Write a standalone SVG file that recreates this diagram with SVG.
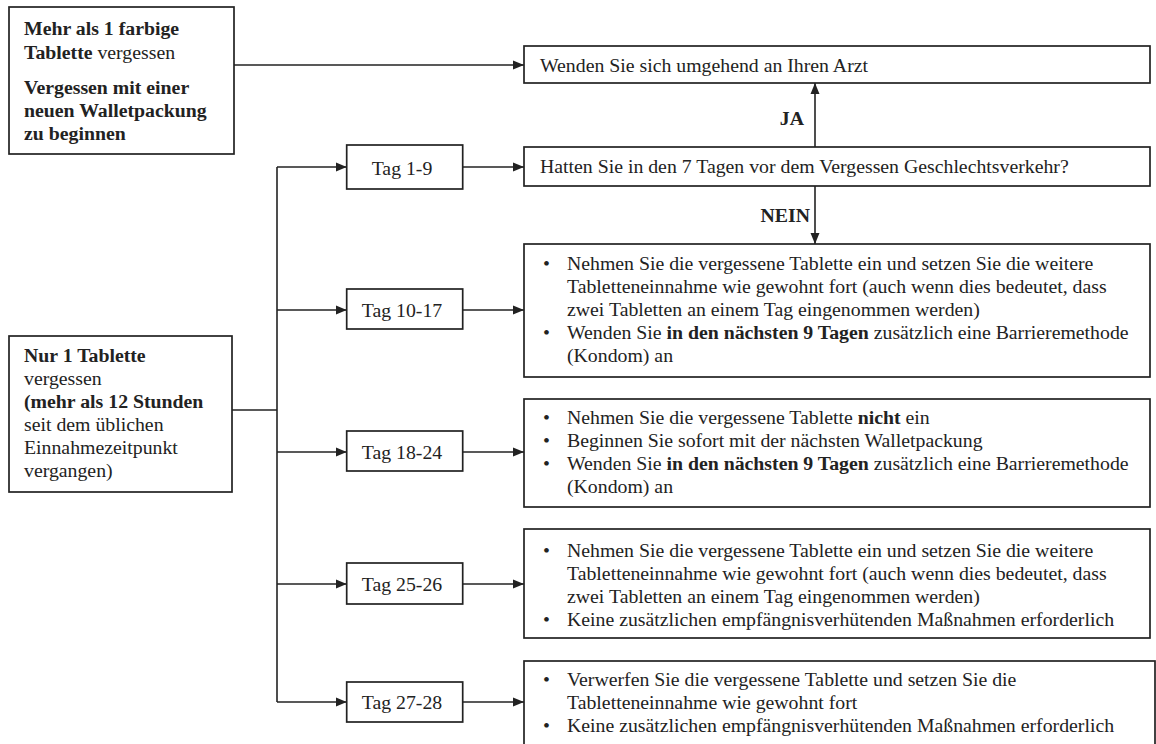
<svg xmlns="http://www.w3.org/2000/svg" width="1156" height="744" viewBox="0 0 1156 744">
<style>
.box{fill:#fff;stroke:#222;stroke-width:1.7}
.t{font-family:"Liberation Serif","Times New Roman",serif;font-size:19.8px;fill:#222}
.b{font-weight:bold}
.c{text-anchor:middle}
.e{text-anchor:end}
.ln{fill:none;stroke:#222;stroke-width:1.6}
.arr{marker-end:url(#ah)}
</style>
<defs>
<marker id="ah" markerUnits="userSpaceOnUse" markerWidth="11" markerHeight="10" refX="11" refY="5" orient="auto">
<path d="M0,0.5 L11,5 L0,9.5 z" fill="#222"/>
</marker>
</defs>
<rect width="1156" height="744" fill="#fff"/>

<g id="connectors">
<path class="ln arr" d="M234,65 H524"/>
<path class="ln" d="M277,167 V702"/>
<path class="ln" d="M232,410 H277"/>
<path class="ln arr" d="M277,167 H346.7"/>
<path class="ln arr" d="M462.7,167 H524"/>
<path class="ln arr" d="M815,147 V83"/>
<path class="ln arr" d="M815,186 V244"/>
<path class="ln arr" d="M277,310 H346.7"/>
<path class="ln arr" d="M462.7,310 H524"/>
<path class="ln arr" d="M277,452 H346.7"/>
<path class="ln arr" d="M462.7,452 H524"/>
<path class="ln arr" d="M277,584 H346.7"/>
<path class="ln arr" d="M462.7,584 H524"/>
<path class="ln arr" d="M277,702 H346.7"/>
<path class="ln arr" d="M462.7,702 H524"/>
<text class="t b e" x="804" y="125">JA</text>
<text class="t b e" x="810" y="222">NEIN</text>
</g>

<g id="mehr-als-1">
<rect class="box" x="9" y="7" width="225" height="147"/>
<text class="t b" x="24" y="35">Mehr als 1 farbige</text>
<text class="t" x="24" y="59"><tspan class="b">Tablette</tspan> vergessen</text>
<text class="t b" x="24" y="94">Vergessen mit einer</text>
<text class="t b" x="24" y="117">neuen Walletpackung</text>
<text class="t b" x="24" y="140">zu beginnen</text>
</g>

<g id="nur-1">
<rect class="box" x="9" y="336" width="223" height="156"/>
<text class="t b" x="24" y="362">Nur 1 Tablette</text>
<text class="t" x="24" y="385">vergessen</text>
<text class="t b" x="24" y="408">(mehr als 12 Stunden</text>
<text class="t" x="24" y="431">seit dem üblichen</text>
<text class="t" x="24" y="454">Einnahmezeitpunkt</text>
<text class="t" x="24" y="477">vergangen)</text>
</g>

<g id="arzt">
<rect class="box" x="524" y="46" width="626" height="37"/>
<text class="t" x="540" y="72">Wenden Sie sich umgehend an Ihren Arzt</text>
</g>

<g id="frage">
<rect class="box" x="524" y="147" width="626" height="39"/>
<text class="t" x="540" y="173">Hatten Sie in den 7 Tagen vor dem Vergessen Geschlechtsverkehr?</text>
</g>

<g id="tag-1-9">
<rect class="box" x="346.7" y="145" width="116" height="44"/>
<text class="t c" x="402" y="175">Tag 1-9</text>
</g>
<g id="tag-10-17">
<rect class="box" x="346.7" y="289" width="116" height="40"/>
<text class="t c" x="402" y="317">Tag 10-17</text>
</g>
<g id="tag-18-24">
<rect class="box" x="346.7" y="431" width="116" height="40"/>
<text class="t c" x="402" y="459">Tag 18-24</text>
</g>
<g id="tag-25-26">
<rect class="box" x="346.7" y="563" width="116" height="41"/>
<text class="t c" x="402" y="591">Tag 25-26</text>
</g>
<g id="tag-27-28">
<rect class="box" x="346.7" y="682" width="116" height="40"/>
<text class="t c" x="402" y="709">Tag 27-28</text>
</g>

<g id="massnahme-10-17">
<rect class="box" x="524" y="244" width="626" height="133"/>
<text class="t" x="543" y="270">•</text>
<text class="t" x="567" y="270">Nehmen Sie die vergessene Tablette ein und setzen Sie die weitere</text>
<text class="t" x="567" y="293">Tabletteneinnahme wie gewohnt fort (auch wenn dies bedeutet, dass</text>
<text class="t" x="567" y="316">zwei Tabletten an einem Tag eingenommen werden)</text>
<text class="t" x="543" y="339">•</text>
<text class="t" x="567" y="339">Wenden Sie <tspan class="b">in den nächsten 9 Tagen</tspan> zusätzlich eine Barrieremethode</text>
<text class="t" x="567" y="362">(Kondom) an</text>
</g>

<g id="massnahme-18-24">
<rect class="box" x="524" y="399" width="626" height="108"/>
<text class="t" x="543" y="424">•</text>
<text class="t" x="567" y="424">Nehmen Sie die vergessene Tablette <tspan class="b">nicht</tspan> ein</text>
<text class="t" x="543" y="447">•</text>
<text class="t" x="567" y="447">Beginnen Sie sofort mit der nächsten Walletpackung</text>
<text class="t" x="543" y="470">•</text>
<text class="t" x="567" y="470">Wenden Sie <tspan class="b">in den nächsten 9 Tagen</tspan> zusätzlich eine Barrieremethode</text>
<text class="t" x="567" y="493">(Kondom) an</text>
</g>

<g id="massnahme-25-26">
<rect class="box" x="524" y="529" width="626" height="109"/>
<text class="t" x="543" y="557">•</text>
<text class="t" x="567" y="557">Nehmen Sie die vergessene Tablette ein und setzen Sie die weitere</text>
<text class="t" x="567" y="580">Tabletteneinnahme wie gewohnt fort (auch wenn dies bedeutet, dass</text>
<text class="t" x="567" y="603">zwei Tabletten an einem Tag eingenommen werden)</text>
<text class="t" x="543" y="626">•</text>
<text class="t" x="567" y="626">Keine zusätzlichen empfängnisverhütenden Maßnahmen erforderlich</text>
</g>

<g id="massnahme-27-28">
<rect class="box" x="524" y="661" width="631" height="90"/>
<text class="t" x="543" y="686">•</text>
<text class="t" x="567" y="686">Verwerfen Sie die vergessene Tablette und setzen Sie die</text>
<text class="t" x="567" y="709">Tabletteneinnahme wie gewohnt fort</text>
<text class="t" x="543" y="732">•</text>
<text class="t" x="567" y="732">Keine zusätzlichen empfängnisverhütenden Maßnahmen erforderlich</text>
</g>
</svg>
